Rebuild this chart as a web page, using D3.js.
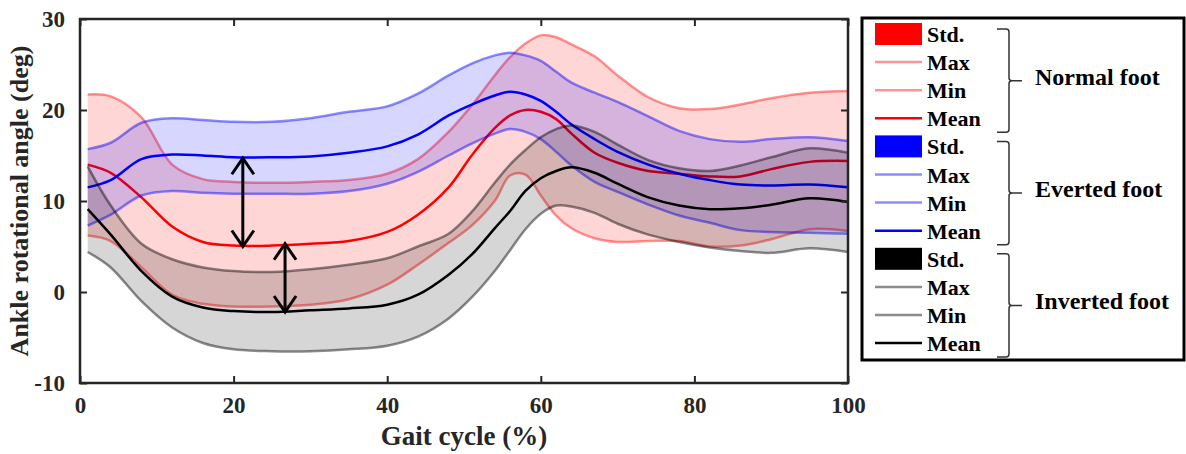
<!DOCTYPE html>
<html>
<head>
<meta charset="utf-8">
<script src="https://cdn.jsdelivr.net/npm/d3@7"></script>
<style>
body { margin: 0; background: #fff; }
text { font-family: "Liberation Serif", "Times New Roman", serif; font-weight: bold; }
</style>
</head>
<body>
<div class="draw"></div>
<script>
// gait cycle (%) sample points
var gait = [1,4,8,12,16,20,25,30,35,40,44,48,51,54,56,58,60,62,64,67,70,74,78,82,86,90,95,100];

var normalMax  = [21.7,21.5,19.2,14.0,12.4,12.1,12.0,12.1,12.3,13.0,14.6,17.6,20.5,23.8,25.8,27.3,28.2,28.0,27.2,25.9,23.8,21.4,20.2,20.1,20.6,21.3,21.9,22.1];
var normalMin  = [6.2,5.6,2.7,-0.3,-1.3,-1.6,-1.6,-1.4,-0.8,0.8,3.0,5.4,7.3,10.0,12.8,12.9,10.6,8.4,7.0,5.9,5.5,5.6,5.6,5.0,5.1,5.8,6.9,6.7];
var normalMean = [14.0,13.1,10.4,7.2,5.5,5.1,5.1,5.3,5.6,6.6,8.5,11.5,15.0,18.0,19.4,20.0,19.8,19.0,17.4,15.3,14.2,13.3,13.0,12.7,12.7,13.5,14.3,14.4];

var evertedMax  = [15.7,16.4,18.6,19.1,18.9,18.7,18.7,19.1,19.8,20.4,21.8,23.8,25.1,26.0,26.3,26.0,25.4,24.2,23.0,21.9,20.9,19.3,17.7,16.8,16.5,16.8,17.0,16.6];
var evertedMin  = [7.3,8.5,10.6,11.1,10.9,10.8,10.8,10.8,11.1,11.9,13.2,15.0,16.3,17.4,17.9,17.6,16.8,15.4,13.9,12.1,11.0,9.6,8.4,7.6,6.8,6.6,6.5,6.4];
var evertedMean = [11.5,12.3,14.6,15.1,15.0,14.8,14.8,14.9,15.3,16.0,17.3,19.4,20.6,21.6,22.0,21.7,21.0,19.8,18.4,16.8,15.4,14.0,13.0,12.3,11.8,11.7,11.8,11.5];

var invertedMax  = [13.8,9.5,5.3,3.6,2.7,2.3,2.2,2.5,3.0,3.7,5.0,6.4,8.8,12.0,14.0,15.6,17.0,17.9,18.3,17.6,16.2,14.5,13.6,13.3,13.9,14.8,15.8,15.3];
var invertedMin  = [4.4,2.7,-1.0,-3.9,-5.6,-6.3,-6.5,-6.5,-6.3,-5.9,-4.9,-2.9,-0.6,2.3,4.6,6.9,8.6,9.5,9.4,8.7,7.5,6.3,5.5,4.9,4.5,4.3,4.8,4.4];
var invertedMean = [9.1,6.3,2.3,-0.5,-1.7,-2.1,-2.2,-2.0,-1.8,-1.4,-0.3,1.9,4.1,7.0,8.9,11.1,12.5,13.3,13.7,13.1,11.9,10.4,9.5,9.1,9.2,9.6,10.3,9.9];

// double arrows between the means
var arrowX = [21.2, 26.7];
var arrowTop = [14.7, 5.3];
var arrowBottom = [5.0, -2.2];

var xTicks = [0,20,40,60,80,100];
var yTicks = [-10,0,10,20,30];
var legendLabels = ["Std.","Max","Min","Mean"];
var groupNames = ["Normal foot","Everted foot","Inverted foot"];

var groups = [
    {name: groupNames[0], max: normalMax, min: normalMin, mean: normalMean, color: "#ff0000", lightOp: 0.42},
    {name: groupNames[1], max: evertedMax, min: evertedMin, mean: evertedMean, color: "#0000ff", lightOp: 0.45},
    {name: groupNames[2], max: invertedMax, min: invertedMin, mean: invertedMean, color: "#000000", lightOp: 0.45}
];

var W = 1186, H = 454;
var plot = {left: 80, right: 848, top: 19, bottom: 383};

var svg = d3.select(".draw").append("svg")
    .attr("width", W)
    .attr("height", H);

var x = d3.scaleLinear().domain([0, 100]).range([plot.left, plot.right]);
var y = d3.scaleLinear().domain([-10, 30]).range([plot.bottom, plot.top]);

var curve = d3.curveCatmullRom.alpha(0.5);

var area = d3.area()
    .x(function (d) { return x(d.g); })
    .y0(function (d) { return y(d.lo); })
    .y1(function (d) { return y(d.hi); })
    .curve(curve);

var line = d3.line()
    .x(function (d) { return x(d.g); })
    .y(function (d) { return y(d.v); })
    .curve(curve);

function pts(arr) {
    return gait.map(function (g, i) { return {g: g, v: arr[i]}; });
}

groups.forEach(function (grp) {
    var band = gait.map(function (g, i) { return {g: g, lo: grp.min[i], hi: grp.max[i]}; });
    svg.append("path")
        .attr("d", area(band))
        .attr("fill", grp.color)
        .attr("fill-opacity", 0.16);
    [grp.max, grp.min].forEach(function (arr) {
        svg.append("path")
            .attr("d", line(pts(arr)))
            .attr("fill", "none")
            .attr("stroke", grp.color)
            .attr("stroke-opacity", grp.lightOp)
            .attr("stroke-width", 2.5);
    });
    svg.append("path")
        .attr("d", line(pts(grp.mean)))
        .attr("fill", "none")
        .attr("stroke", grp.color)
        .attr("stroke-width", 2.5);
});

// arrows
arrowX.forEach(function (ax, i) {
    var px = x(ax), t = y(arrowTop[i]), b = y(arrowBottom[i]);
    var g = svg.append("g").attr("stroke", "#000").attr("stroke-width", 3).attr("fill", "none");
    g.append("line").attr("x1", px).attr("x2", px).attr("y1", t).attr("y2", b);
    g.append("path").attr("d", "M" + (px - 11) + "," + (t + 16) + "L" + px + "," + t + "L" + (px + 11) + "," + (t + 16));
    g.append("path").attr("d", "M" + (px - 11) + "," + (b - 16) + "L" + px + "," + b + "L" + (px + 11) + "," + (b - 16));
});

// axes box with inward ticks on all sides
var axisColor = "#262626";
var fmt = function (d) { return String(d); };
svg.append("g")
    .attr("transform", "translate(0," + plot.bottom + ")")
    .call(d3.axisBottom(x).tickValues(xTicks).tickSizeInner(-7).tickSizeOuter(0).tickPadding(14).tickFormat(fmt))
    .call(function (g) {
        g.select(".domain").remove();
        g.selectAll("line").attr("stroke", axisColor).attr("stroke-width", 2);
        g.selectAll("text").attr("font-size", 23).attr("fill", axisColor).attr("font-family", null);
    });
svg.append("g")
    .attr("transform", "translate(0," + plot.top + ")")
    .call(d3.axisTop(x).tickValues(xTicks).tickSizeInner(-7).tickSizeOuter(0).tickFormat(""))
    .call(function (g) {
        g.select(".domain").remove();
        g.selectAll("line").attr("stroke", axisColor).attr("stroke-width", 2);
    });
svg.append("g")
    .attr("transform", "translate(" + plot.left + ",0)")
    .call(d3.axisLeft(y).tickValues(yTicks).tickSizeInner(-7).tickSizeOuter(0).tickPadding(15).tickFormat(fmt))
    .call(function (g) {
        g.select(".domain").remove();
        g.selectAll("line").attr("stroke", axisColor).attr("stroke-width", 2);
        g.selectAll("text").attr("font-size", 23).attr("fill", axisColor).attr("font-family", null);
    });
svg.append("g")
    .attr("transform", "translate(" + plot.right + ",0)")
    .call(d3.axisRight(y).tickValues(yTicks).tickSizeInner(-7).tickSizeOuter(0).tickFormat(""))
    .call(function (g) {
        g.select(".domain").remove();
        g.selectAll("line").attr("stroke", axisColor).attr("stroke-width", 2);
    });
svg.append("rect")
    .attr("x", plot.left).attr("y", plot.top)
    .attr("width", plot.right - plot.left).attr("height", plot.bottom - plot.top)
    .attr("fill", "none").attr("stroke", axisColor).attr("stroke-width", 2.5);

// axis labels
svg.append("text")
    .attr("x", (plot.left + plot.right) / 2).attr("y", 445)
    .attr("text-anchor", "middle").attr("font-size", 27).attr("fill", axisColor)
    .text("Gait cycle (%)");
svg.append("text")
    .attr("transform", "translate(28," + ((plot.top + plot.bottom) / 2) + ") rotate(-90)")
    .attr("text-anchor", "middle").attr("font-size", 26).attr("fill", axisColor)
    .text("Ankle rotational angle (deg)");

// legend
var leg = svg.append("g");
leg.append("rect")
    .attr("x", 862).attr("y", 18).attr("width", 322).attr("height", 342)
    .attr("fill", "#fff").attr("stroke", "#000").attr("stroke-width", 3);

var rowY = function (i) { return 34 + i * 28.1; };

groups.forEach(function (grp, gi) {
    legendLabels.forEach(function (lab, li) {
        var ry = rowY(gi * 4 + li);
        if (li == 0) {
            leg.append("rect").attr("x", 875).attr("y", ry - 11).attr("width", 47).attr("height", 22)
                .attr("fill", grp.color);
        } else {
            leg.append("line").attr("x1", 875).attr("x2", 922).attr("y1", ry).attr("y2", ry)
                .attr("stroke", grp.color)
                .attr("stroke-opacity", li == 3 ? 1 : grp.lightOp)
                .attr("stroke-width", 2.5);
        }
        leg.append("text").attr("x", 927).attr("y", ry + 8)
            .attr("font-size", 22).attr("fill", "#000").text(lab);
    });
    // curly bracket for the group
    var top = rowY(gi * 4) - 5, bot = rowY(gi * 4 + 3) + 14, mid = (top + bot) / 2;
    var bx = 1009;
    leg.append("path")
        .attr("d", "M997," + top + " L" + (bx - 3) + "," + top + " Q" + bx + "," + top + " " + bx + "," + (top + 3) +
            " L" + bx + "," + (mid - 3) + " Q" + bx + "," + mid + " " + (bx + 3) + "," + mid + " L" + (bx + 13) + "," + mid +
            " M" + (bx + 3) + "," + mid + " Q" + bx + "," + mid + " " + bx + "," + (mid + 3) +
            " L" + bx + "," + (bot - 3) + " Q" + bx + "," + bot + " " + (bx - 3) + "," + bot + " L997," + bot)
        .attr("fill", "none").attr("stroke", "#333").attr("stroke-width", 1.5);
    leg.append("text").attr("x", 1035).attr("y", mid + 4)
        .attr("font-size", 24).attr("fill", "#000").text(grp.name);
});
</script>
</body>
</html>
